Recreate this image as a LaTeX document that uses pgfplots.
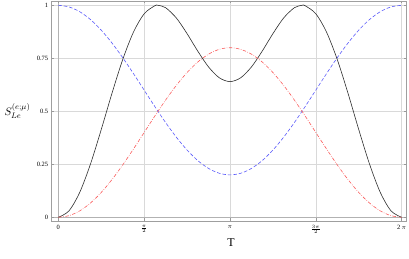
\documentclass[border=0pt]{standalone}
\usepackage{fontspec}
\setmainfont{Liberation Serif}
\usepackage{pgfplots}
\pgfplotsset{compat=1.18}
\definecolor{cblue}{RGB}{90,90,250}
\definecolor{cred}{RGB}{250,90,90}
\definecolor{cblack}{RGB}{45,45,45}
\begin{document}
\begin{tikzpicture}[x=1bp,y=1bp]
\begin{axis}[
  scale only axis, width=355bp, height=220bp,
  xmin=-0.121, xmax=6.375, ymin=-0.0175, ymax=1.0203,
  axis line style={gray!75, line width=0.5bp},
  grid=major, major grid style={gray!30, line width=0.5bp},
  tick style={gray!80, line width=0.5bp},
  tick align=inside, major tick length=2.5bp,
  xtick={0,1.5708,3.14159,4.71239,6.28319},
  xticklabels={0, $\frac{\pi}{2}$, $\pi$, $\frac{3\pi}{2}$, 2\,$\pi$},
  ytick={0,0.25,0.5,0.75,1},
  yticklabels={0,0.25,0.5,0.75,1},
  tick label style={font=\fontsize{6.5}{7}\selectfont, black},
  xticklabel style={yshift=-1bp},
  extra x ticks={0}, extra y ticks={0},
  extra x tick labels={}, extra y tick labels={},
  extra tick style={major grid style={gray!60, line width=0.5bp}},
  xlabel={T}, ylabel={$S_{Le}^{(e;\mu)}$},
  every axis x label/.style={at={(axis description cs:0.505,-0.1)}, anchor=center, font=\fontsize{12}{14}\selectfont},
  every axis y label/.style={at={(axis description cs:-0.1428,0.5)}, anchor=west, font=\fontsize{11}{13}\selectfont},
]
\addplot[cblack, line width=0.6bp, smooth] coordinates {
(0,0) (0.19635,0.0305) (0.39270,0.1181) (0.58905,0.2515) (0.78540,0.4137)
(0.98175,0.5847) (1.17810,0.7438) (1.37445,0.8732) (1.57080,0.9600)
(1.76715,0.9981) (1.8235,1.0) (1.96350,0.9887) (2.15984,0.9402) (2.35619,0.8663)
(2.55254,0.7836) (2.74889,0.7094) (2.94524,0.6582) (3.14159,0.6400)
(3.33794,0.6582) (3.53429,0.7094) (3.73064,0.7836) (3.92699,0.8663)
(4.12334,0.9402) (4.31969,0.9887) (4.4597,1.0) (4.51604,0.9981) (4.71239,0.9600)
(4.90874,0.8732) (5.10509,0.7438) (5.30144,0.5847) (5.49779,0.4137)
(5.69414,0.2515) (5.89049,0.1181) (6.08684,0.0305) (6.28319,0)
};
\addplot[cblue, line width=0.6bp, smooth, dash pattern=on 3.5bp off 2bp] coordinates {
(0,1) (0.19635,0.9923) (0.39270,0.9696) (0.58905,0.9326) (0.78540,0.8828)
(0.98175,0.8222) (1.17810,0.7531) (1.37445,0.6780) (1.57080,0.6000)
(1.76715,0.5220) (1.96350,0.4469) (2.15984,0.3778) (2.35619,0.3172)
(2.55254,0.2674) (2.74889,0.2305) (2.94524,0.2077) (3.14159,0.2000)
(3.33794,0.2077) (3.53429,0.2305) (3.73064,0.2674) (3.92699,0.3172)
(4.12334,0.3778) (4.31969,0.4469) (4.51604,0.5220) (4.71239,0.6000)
(4.90874,0.6780) (5.10509,0.7531) (5.30144,0.8222) (5.49779,0.8828)
(5.69414,0.9326) (5.89049,0.9696) (6.08684,0.9923) (6.28319,1)
};
\addplot[cred, line width=0.6bp, smooth, dash pattern=on 3.5bp off 1.5bp on 0.6bp off 1.5bp] coordinates {
(0,0) (0.19635,0.0077) (0.39270,0.0304) (0.58905,0.0674) (0.78540,0.1172)
(0.98175,0.1778) (1.17810,0.2469) (1.37445,0.3220) (1.57080,0.4000)
(1.76715,0.4780) (1.96350,0.5531) (2.15984,0.6222) (2.35619,0.6828)
(2.55254,0.7326) (2.74889,0.7695) (2.94524,0.7923) (3.14159,0.8000)
(3.33794,0.7923) (3.53429,0.7695) (3.73064,0.7326) (3.92699,0.6828)
(4.12334,0.6222) (4.31969,0.5531) (4.51604,0.4780) (4.71239,0.4000)
(4.90874,0.3220) (5.10509,0.2469) (5.30144,0.1778) (5.49779,0.1172)
(5.69414,0.0674) (5.89049,0.0304) (6.08684,0.0077) (6.28319,0)
};
\end{axis}
\pgfresetboundingbox
\path (-51.7,-38) rectangle (357.3,221);
\end{tikzpicture}
\end{document}
